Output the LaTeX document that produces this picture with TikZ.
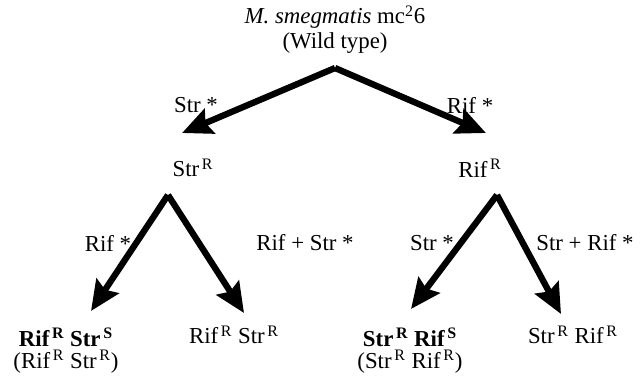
\documentclass[tikz,border=0pt]{standalone}
\usepackage{fontspec}
\setmainfont{Liberation Serif}
\usetikzlibrary{arrows.meta}
\tikzset{
	lbl/.style={inner sep=1pt, font=\fontsize{13}{15}\selectfont},
	branch/.style={line width=3.6pt, -{Stealth[length=17pt, width=15pt, inset=2.5pt]}}
}
\newcommand{\R}{\textsuperscript{\,R}}
\newcommand{\Sn}{\textsuperscript{\,S}}
\begin{document}
\begin{tikzpicture}[x=0.02cm, y=-0.02cm]
	\useasboundingbox (0,0) rectangle (644,376);
	\node[lbl] (wt) at (335,17) {\textit{M. smegmatis} mc\textsuperscript{2}6};
	\node[lbl] (wt2) at (335,43) {(Wild type)};
	\coordinate (top) at (335,68);
	\coordinate (strtip) at (182,133);
	\coordinate (riftip) at (486,133);
	\draw[branch] (top) -- (strtip);
	\draw[branch] (top) -- (riftip);
	\node[lbl] (l1) at (196,105) {Str *};
	\node[lbl] (l2) at (470,105) {Rif *};
	\node[lbl] (strR) at (193,168) {Str\R};
	\node[lbl] (rifR) at (480,168) {Rif\R};
	% second level
	\coordinate (lapex) at (168,195);
	\coordinate (rapex) at (497,195);
	\coordinate (t1) at (91,311);
	\coordinate (t2) at (244,313);
	\coordinate (t3) at (411,309);
	\coordinate (t4) at (561,314);
	\draw[branch] (lapex) -- (t1);
	\draw[branch] (lapex) -- (t2);
	\draw[branch] (rapex) -- (t3);
	\draw[branch] (rapex) -- (t4);
	\node[lbl] (l3) at (108,243) {Rif *};
	\node[lbl] (l4) at (305,243) {Rif + Str *};
	\node[lbl] (l5) at (432,243) {Str *};
	\node[lbl] (l6) at (585,243) {Str + Rif *};
	% leaves
	\node[lbl] (a) at (66,337) {\textbf{Rif\R\ Str\Sn}};
	\node[lbl] (a2) at (66,362) {(Rif\R\ Str\R)};
	\node[lbl] (b) at (234,335) {Rif\R\ Str\R};
	\node[lbl] (c) at (410,337) {\textbf{Str\R\ Rif\Sn}};
	\node[lbl] (c2) at (410,362) {(Str\R\ Rif\R)};
	\node[lbl] (d) at (573,335) {Str\R\ Rif\R};
\end{tikzpicture}
\end{document}
